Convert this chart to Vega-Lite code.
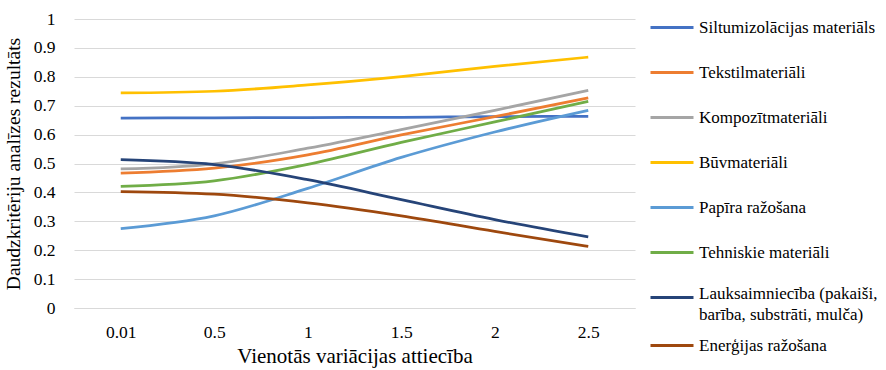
{
  "$schema": "https://vega.github.io/schema/vega-lite/v6.json",
  "autosize": "none",
  "width": 561,
  "height": 289,
  "padding": {"left": 74, "top": 19, "right": 251, "bottom": 62},
  "background": "white",
  "config": {
    "view": {"stroke": null}
  },
  "data": {
    "values": [
      {"r": "0.01", "s": "Siltumizolācijas materiāls", "v": 0.657},
      {"r": "0.5", "s": "Siltumizolācijas materiāls", "v": 0.658},
      {"r": "1", "s": "Siltumizolācijas materiāls", "v": 0.659},
      {"r": "1.5", "s": "Siltumizolācijas materiāls", "v": 0.660},
      {"r": "2", "s": "Siltumizolācijas materiāls", "v": 0.662},
      {"r": "2.5", "s": "Siltumizolācijas materiāls", "v": 0.663},
      {"r": "0.01", "s": "Tekstilmateriāli", "v": 0.467},
      {"r": "0.5", "s": "Tekstilmateriāli", "v": 0.484},
      {"r": "1", "s": "Tekstilmateriāli", "v": 0.530},
      {"r": "1.5", "s": "Tekstilmateriāli", "v": 0.599},
      {"r": "2", "s": "Tekstilmateriāli", "v": 0.662},
      {"r": "2.5", "s": "Tekstilmateriāli", "v": 0.727},
      {"r": "0.01", "s": "Kompozītmateriāli", "v": 0.481},
      {"r": "0.5", "s": "Kompozītmateriāli", "v": 0.499},
      {"r": "1", "s": "Kompozītmateriāli", "v": 0.553},
      {"r": "1.5", "s": "Kompozītmateriāli", "v": 0.617},
      {"r": "2", "s": "Kompozītmateriāli", "v": 0.684},
      {"r": "2.5", "s": "Kompozītmateriāli", "v": 0.753},
      {"r": "0.01", "s": "Būvmateriāli", "v": 0.744},
      {"r": "0.5", "s": "Būvmateriāli", "v": 0.750},
      {"r": "1", "s": "Būvmateriāli", "v": 0.772},
      {"r": "1.5", "s": "Būvmateriāli", "v": 0.801},
      {"r": "2", "s": "Būvmateriāli", "v": 0.836},
      {"r": "2.5", "s": "Būvmateriāli", "v": 0.868},
      {"r": "0.01", "s": "Papīra ražošana", "v": 0.275},
      {"r": "0.5", "s": "Papīra ražošana", "v": 0.319},
      {"r": "1", "s": "Papīra ražošana", "v": 0.414},
      {"r": "1.5", "s": "Papīra ražošana", "v": 0.521},
      {"r": "2", "s": "Papīra ražošana", "v": 0.609},
      {"r": "2.5", "s": "Papīra ražošana", "v": 0.684},
      {"r": "0.01", "s": "Tehniskie materiāli", "v": 0.421},
      {"r": "0.5", "s": "Tehniskie materiāli", "v": 0.440},
      {"r": "1", "s": "Tehniskie materiāli", "v": 0.497},
      {"r": "1.5", "s": "Tehniskie materiāli", "v": 0.573},
      {"r": "2", "s": "Tehniskie materiāli", "v": 0.644},
      {"r": "2.5", "s": "Tehniskie materiāli", "v": 0.715},
      {"r": "0.01", "s": "Lauksaimniecība (pakaiši, barība, substrāti, mulča)", "v": 0.513},
      {"r": "0.5", "s": "Lauksaimniecība (pakaiši, barība, substrāti, mulča)", "v": 0.496},
      {"r": "1", "s": "Lauksaimniecība (pakaiši, barība, substrāti, mulča)", "v": 0.444},
      {"r": "1.5", "s": "Lauksaimniecība (pakaiši, barība, substrāti, mulča)", "v": 0.375},
      {"r": "2", "s": "Lauksaimniecība (pakaiši, barība, substrāti, mulča)", "v": 0.306},
      {"r": "2.5", "s": "Lauksaimniecība (pakaiši, barība, substrāti, mulča)", "v": 0.246},
      {"r": "0.01", "s": "Enerģijas ražošana", "v": 0.403},
      {"r": "0.5", "s": "Enerģijas ražošana", "v": 0.394},
      {"r": "1", "s": "Enerģijas ražošana", "v": 0.364},
      {"r": "1.5", "s": "Enerģijas ražošana", "v": 0.319},
      {"r": "2", "s": "Enerģijas ražošana", "v": 0.265},
      {"r": "2.5", "s": "Enerģijas ražošana", "v": 0.213}
    ]
  },
  "mark": {"type": "line", "interpolate": "monotone", "strokeWidth": 2.75},
  "encoding": {
    "x": {
      "field": "r", "type": "ordinal", "sort": null,
      "scale": {"type": "point", "padding": 0.5},
      "axis": {
        "title": "Vienotās variācijas attiecība",
        "titleFont": "Times New Roman", "titleFontSize": 21, "titleFontWeight": "normal", "titleColor": "#000",
        "titlePadding": 5,
        "labelFont": "Times New Roman", "labelFontSize": 17.5, "labelColor": "#000", "labelAngle": 0,
        "labelPadding": 15,
        "ticks": false, "domainColor": "#d9d9d9", "domainWidth": 1, "grid": false
      }
    },
    "y": {
      "field": "v", "type": "quantitative",
      "scale": {"domain": [0, 1], "nice": false},
      "axis": {
        "title": "Daudzkritēriju analīzes rezultāts",
        "titleFont": "Times New Roman", "titleFontSize": 19.5, "titleFontWeight": "normal", "titleColor": "#000",
        "titlePadding": 10,
        "values": [0, 0.1, 0.2, 0.3, 0.4, 0.5, 0.6, 0.7, 0.8, 0.9, 1],
        "format": ".1~f",
        "labelFont": "Times New Roman", "labelFontSize": 17.5, "labelColor": "#000",
        "labelPadding": 19,
        "ticks": false, "domain": false,
        "grid": true, "gridColor": "#d9d9d9", "gridWidth": 1
      }
    },
    "color": {
      "field": "s", "type": "nominal",
      "scale": {
        "domain": ["Siltumizolācijas materiāls", "Tekstilmateriāli", "Kompozītmateriāli", "Būvmateriāli", "Papīra ražošana", "Tehniskie materiāli", "Lauksaimniecība (pakaiši, barība, substrāti, mulča)", "Enerģijas ražošana"],
        "range": ["#4472C4", "#ED7D31", "#A5A5A5", "#FFC000", "#5B9BD5", "#70AD47", "#264478", "#9E480E"]
      },
      "legend": {
        "title": null,
        "orient": "none",
        "legendX": 575,
        "legendY": -14,
        "symbolType": "stroke",
        "symbolSize": 1849,
        "symbolStrokeWidth": 3,
        "labelFont": "Times New Roman",
        "labelFontSize": 17,
        "labelColor": "#000",
        "labelOffset": 4,
        "labelLimit": 250,
        "rowPadding": 0,
        "clipHeight": 45,
        "labelExpr": "datum.label == 'Lauksaimniecība (pakaiši, barība, substrāti, mulča)' ? ['Lauksaimniecība (pakaiši,', 'barība, substrāti, mulča)'] : datum.label",
        "encode": {
          "labels": {
            "update": {
              "lineHeight": {"value": 21},
              "dy": {"signal": "datum.label == 'Lauksaimniecība (pakaiši, barība, substrāti, mulča)' ? -4 : 0"}
            }
          }
        }
      }
    }
  }
}
